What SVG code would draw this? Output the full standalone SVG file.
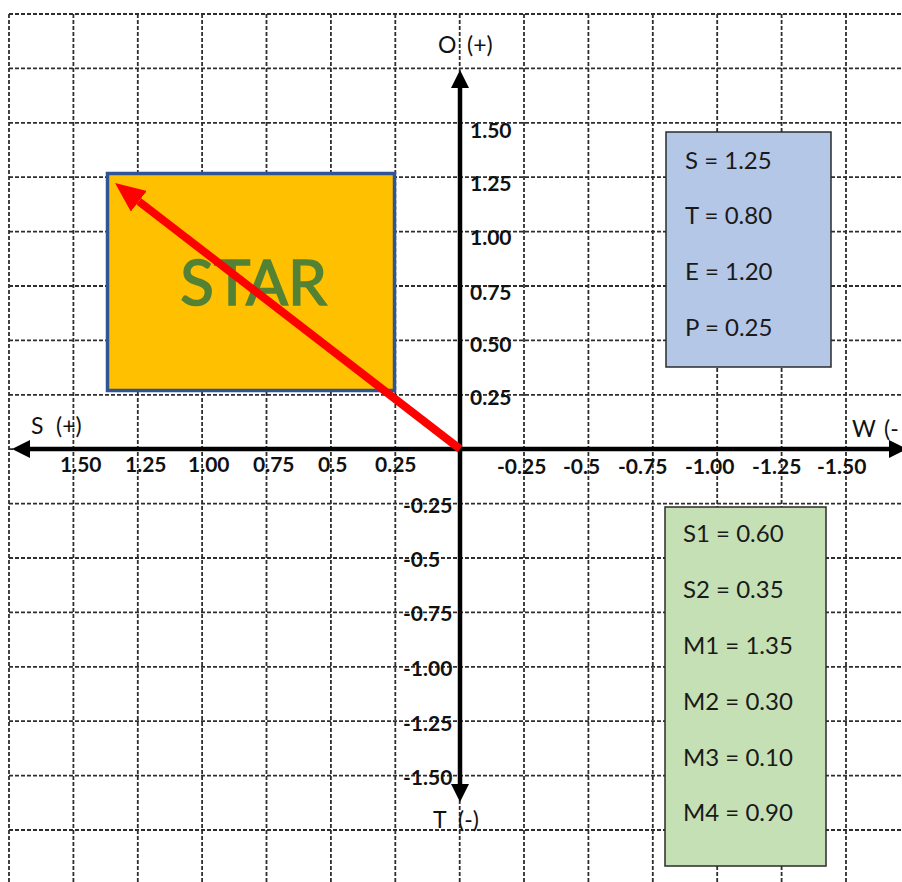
<svg xmlns="http://www.w3.org/2000/svg" width="902" height="882" viewBox="0 0 902 882">
<style>
.grid line{stroke:#2e2e2e;stroke-width:1.8;stroke-dasharray:4 2}
.tick{font-family:Lato,"Liberation Sans",sans-serif;font-weight:bold;font-size:21px;fill:#111}
.axl{font-family:Lato,"Liberation Sans",sans-serif;font-size:23px;fill:#111}
.val{font-family:Lato,"Liberation Sans",sans-serif;font-size:24px;fill:#1a1a1a}
.axis{stroke:#000;stroke-width:4.5;fill:none}
</style>
<defs>
<marker id="ah" markerUnits="userSpaceOnUse" markerWidth="18" markerHeight="18" refX="0" refY="9" orient="auto-start-reverse" viewBox="0 0 18 18">
<path d="M0,0 L18,9 L0,18 z" fill="#000"/>
</marker>
<marker id="rh" markerUnits="userSpaceOnUse" markerWidth="30" markerHeight="26" refX="0" refY="13" orient="auto" viewBox="0 0 30 26">
<path d="M0,0 L30,13 L0,26 z" fill="#ff0000"/>
</marker>
</defs>
<rect x="0" y="0" width="902" height="882" fill="#fff"/>
<g class="grid" id="grid">
<line x1="9" y1="14" x2="9" y2="882"/>
<line x1="73.4" y1="14" x2="73.4" y2="882"/>
<line x1="137.8" y1="14" x2="137.8" y2="882"/>
<line x1="202.1" y1="14" x2="202.1" y2="882"/>
<line x1="266.5" y1="14" x2="266.5" y2="882"/>
<line x1="330.9" y1="14" x2="330.9" y2="882"/>
<line x1="395.3" y1="14" x2="395.3" y2="882"/>
<line x1="459.7" y1="14" x2="459.7" y2="882"/>
<line x1="524" y1="14" x2="524" y2="882"/>
<line x1="588.4" y1="14" x2="588.4" y2="882"/>
<line x1="652.8" y1="14" x2="652.8" y2="882"/>
<line x1="717.2" y1="14" x2="717.2" y2="882"/>
<line x1="781.6" y1="14" x2="781.6" y2="882"/>
<line x1="846" y1="14" x2="846" y2="882"/>
<line x1="9" y1="14" x2="902" y2="14"/>
<line x1="9" y1="68.4" x2="902" y2="68.4"/>
<line x1="9" y1="122.8" x2="902" y2="122.8"/>
<line x1="9" y1="177.2" x2="902" y2="177.2"/>
<line x1="9" y1="231.6" x2="902" y2="231.6"/>
<line x1="9" y1="286" x2="902" y2="286"/>
<line x1="9" y1="340.4" x2="902" y2="340.4"/>
<line x1="9" y1="394.8" x2="902" y2="394.8"/>
<line x1="9" y1="449.2" x2="902" y2="449.2"/>
<line x1="9" y1="503.6" x2="902" y2="503.6"/>
<line x1="9" y1="558" x2="902" y2="558"/>
<line x1="9" y1="612.4" x2="902" y2="612.4"/>
<line x1="9" y1="666.8" x2="902" y2="666.8"/>
<line x1="9" y1="721.2" x2="902" y2="721.2"/>
<line x1="9" y1="775.6" x2="902" y2="775.6"/>
<line x1="9" y1="830" x2="902" y2="830"/>
</g>
<g id="star">
<rect x="107.5" y="173.5" width="287" height="217" fill="#ffc000" stroke="#2f5597" stroke-width="3.5"/>
<text x="253.5" y="305" text-anchor="middle" font-family="Lato,'Liberation Sans',sans-serif" font-size="62" fill="#548235" stroke="#548235" stroke-width="1.6">STAR</text>
</g>
<g id="connectors">
<line class="axis" x1="460" y1="784" x2="460" y2="88" marker-start="url(#ah)" marker-end="url(#ah)"/>
<line class="axis" x1="30" y1="449" x2="889" y2="449" marker-start="url(#ah)" marker-end="url(#ah)"/>
<line x1="460" y1="449" x2="138.8" y2="201.3" stroke="#ff0000" stroke-width="8" marker-end="url(#rh)"/>
</g>
<g id="axis-labels">
<text class="axl" y="53"><tspan x="438">O</tspan><tspan x="467">(+)</tspan></text>
<text class="axl" y="828"><tspan x="433">T</tspan><tspan x="458">(-)</tspan></text>
<text class="axl" y="434"><tspan x="31">S</tspan><tspan x="56">(+)</tspan></text>
<text class="axl" y="437"><tspan x="852">W</tspan><tspan x="884">(-</tspan></text>
</g>
<g id="y-ticks">
<text class="tick" x="470" y="137.5">1.50</text>
<text class="tick" x="470" y="190.5">1.25</text>
<text class="tick" x="470" y="244.5">1.00</text>
<text class="tick" x="470" y="299.5">0.75</text>
<text class="tick" x="470" y="351.5">0.50</text>
<text class="tick" x="470" y="404.5">0.25</text>
<text class="tick" x="403" y="512.5">-0.25</text>
<text class="tick" x="403" y="566.5">-0.5</text>
<text class="tick" x="403" y="620.5">-0.75</text>
<text class="tick" x="403" y="675.5">-1.00</text>
<text class="tick" x="403" y="730.5">-1.25</text>
<text class="tick" x="403" y="784.5">-1.50</text>
</g>
<g id="x-ticks">
<text class="tick" x="60" y="472">1.50</text>
<text class="tick" x="125" y="472">1.25</text>
<text class="tick" x="188" y="472">1.00</text>
<text class="tick" x="253" y="472">0.75</text>
<text class="tick" x="318" y="472">0.5</text>
<text class="tick" x="375" y="472">0.25</text>
<text class="tick" x="497" y="474">-0.25</text>
<text class="tick" x="563" y="474">-0.5</text>
<text class="tick" x="618" y="474">-0.75</text>
<text class="tick" x="685" y="474">-1.00</text>
<text class="tick" x="752" y="474">-1.25</text>
<text class="tick" x="817" y="474">-1.50</text>
</g>
<g id="blue-box">
<rect x="666" y="132" width="165" height="235" fill="#b4c7e7" stroke="#2b2b2b" stroke-width="1.5"/>
<text class="val" x="685" y="168.5">S = 1.25</text>
<text class="val" x="685" y="223.5">T = 0.80</text>
<text class="val" x="685" y="279.5">E = 1.20</text>
<text class="val" x="685" y="335.5">P = 0.25</text>
</g>
<g id="green-box">
<rect x="665" y="507" width="161" height="359" fill="#c5e0b4" stroke="#2b2b2b" stroke-width="1.5"/>
<text class="val" x="683" y="541.5">S1 = 0.60</text>
<text class="val" x="683" y="597.5">S2 = 0.35</text>
<text class="val" x="683" y="653.5">M1 = 1.35</text>
<text class="val" x="683" y="709.5">M2 = 0.30</text>
<text class="val" x="683" y="765.5">M3 = 0.10</text>
<text class="val" x="683" y="820.5">M4 = 0.90</text>
</g>
</svg>
